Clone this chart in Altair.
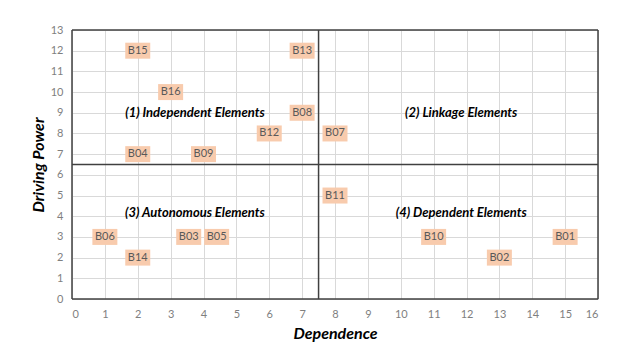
import altair as alt
import pandas as pd

codes = ["B01", "B02", "B03", "B04", "B05", "B06", "B07", "B08",
         "B09", "B10", "B11", "B12", "B13", "B14", "B15", "B16"]
dependence = [15, 13, 3.55, 2, 4.4, 1, 8, 7, 4, 11, 8, 6, 7, 2, 2, 3]
driving = [3, 2, 3, 7, 3, 3, 8, 9, 7, 3, 5, 8, 12, 2, 12, 10]

quad_names = ["(1) Independent Elements", "(2) Linkage Elements",
              "(3) Autonomous Elements", "(4) Dependent Elements"]
quad_x = [3.74, 11.84, 3.74, 11.84]
quad_y = [8.98, 8.98, 4.18, 4.18]

split_x = [7.5]
split_y = [6.5]
x_ticks = list(range(0, 17))
y_ticks = list(range(0, 14))
frame_x = [0, 16]
frame_y = [0, 13]

df = pd.DataFrame({"code": codes, "dep": dependence, "drv": driving})
qdf = pd.DataFrame({"name": quad_names, "x": quad_x, "y": quad_y})

xs = alt.Scale(domain=[0, 16], nice=False, zero=False)
ys = alt.Scale(domain=[0, 13], nice=False, zero=False)

xaxis = alt.Axis(values=x_ticks, grid=True, ticks=False, domain=False, labelOverlap=False,
                 labelColor="#7f7f7f", labelFontSize=11, labelFont="Lato", labelPadding=9,
                 title="Dependence", titleFont="Lato", titleFontSize=16, titleFontWeight="bold",
                 titleFontStyle="italic", titleColor="#000000", titlePadding=6,
                 gridColor="#d9d9d9", gridWidth=1)
yaxis = alt.Axis(values=y_ticks, grid=True, ticks=False, domain=False, labelOverlap=False,
                 labelColor="#7f7f7f", labelFontSize=11, labelFont="Lato", labelPadding=9,
                 title="Driving Power", titleFont="Lato", titleFontSize=16, titleFontWeight="bold",
                 titleFontStyle="italic", titleColor="#000000", titlePadding=4,
                 gridColor="#d9d9d9", gridWidth=1)

X = lambda f: alt.X(f, scale=xs, axis=xaxis)
Y = lambda f: alt.Y(f, scale=ys, axis=yaxis)

boxes = alt.Chart(df).mark_point(
    shape="M-1,-0.64L1,-0.64L1,0.64L-1,0.64Z", filled=True, opacity=1,
    color="#f8cbad", size=625, strokeWidth=0
).encode(x=X("dep:Q"), y=Y("drv:Q"))

texts = alt.Chart(df).mark_text(font="Lato", fontSize=11, color="#595959").encode(
    x=X("dep:Q"), y=Y("drv:Q"), text="code:N")

quads = alt.Chart(qdf).mark_text(font="Lato", fontSize=13, fontWeight="bold",
                                 fontStyle="italic", color="#000000").encode(
    x=X("x:Q"), y=Y("y:Q"), text="name:N")

vline = alt.Chart(pd.DataFrame({"v": split_x + frame_x})).mark_rule(
    color="#404040", strokeWidth=1.5).encode(x=X("v:Q"))
hline = alt.Chart(pd.DataFrame({"h": split_y + frame_y})).mark_rule(
    color="#404040", strokeWidth=1.5).encode(y=Y("h:Q"))

chart = alt.layer(boxes, vline, hline, texts, quads).properties(
    width=526, height=269,
    autosize=alt.AutoSizeParams(type="none"),
    padding={"left": 64, "top": 22, "right": 23, "bottom": 50},
).configure_view(stroke=None).configure(background="white")

chart.save("out.html", embed_options={"renderer": "svg", "actions": False})
